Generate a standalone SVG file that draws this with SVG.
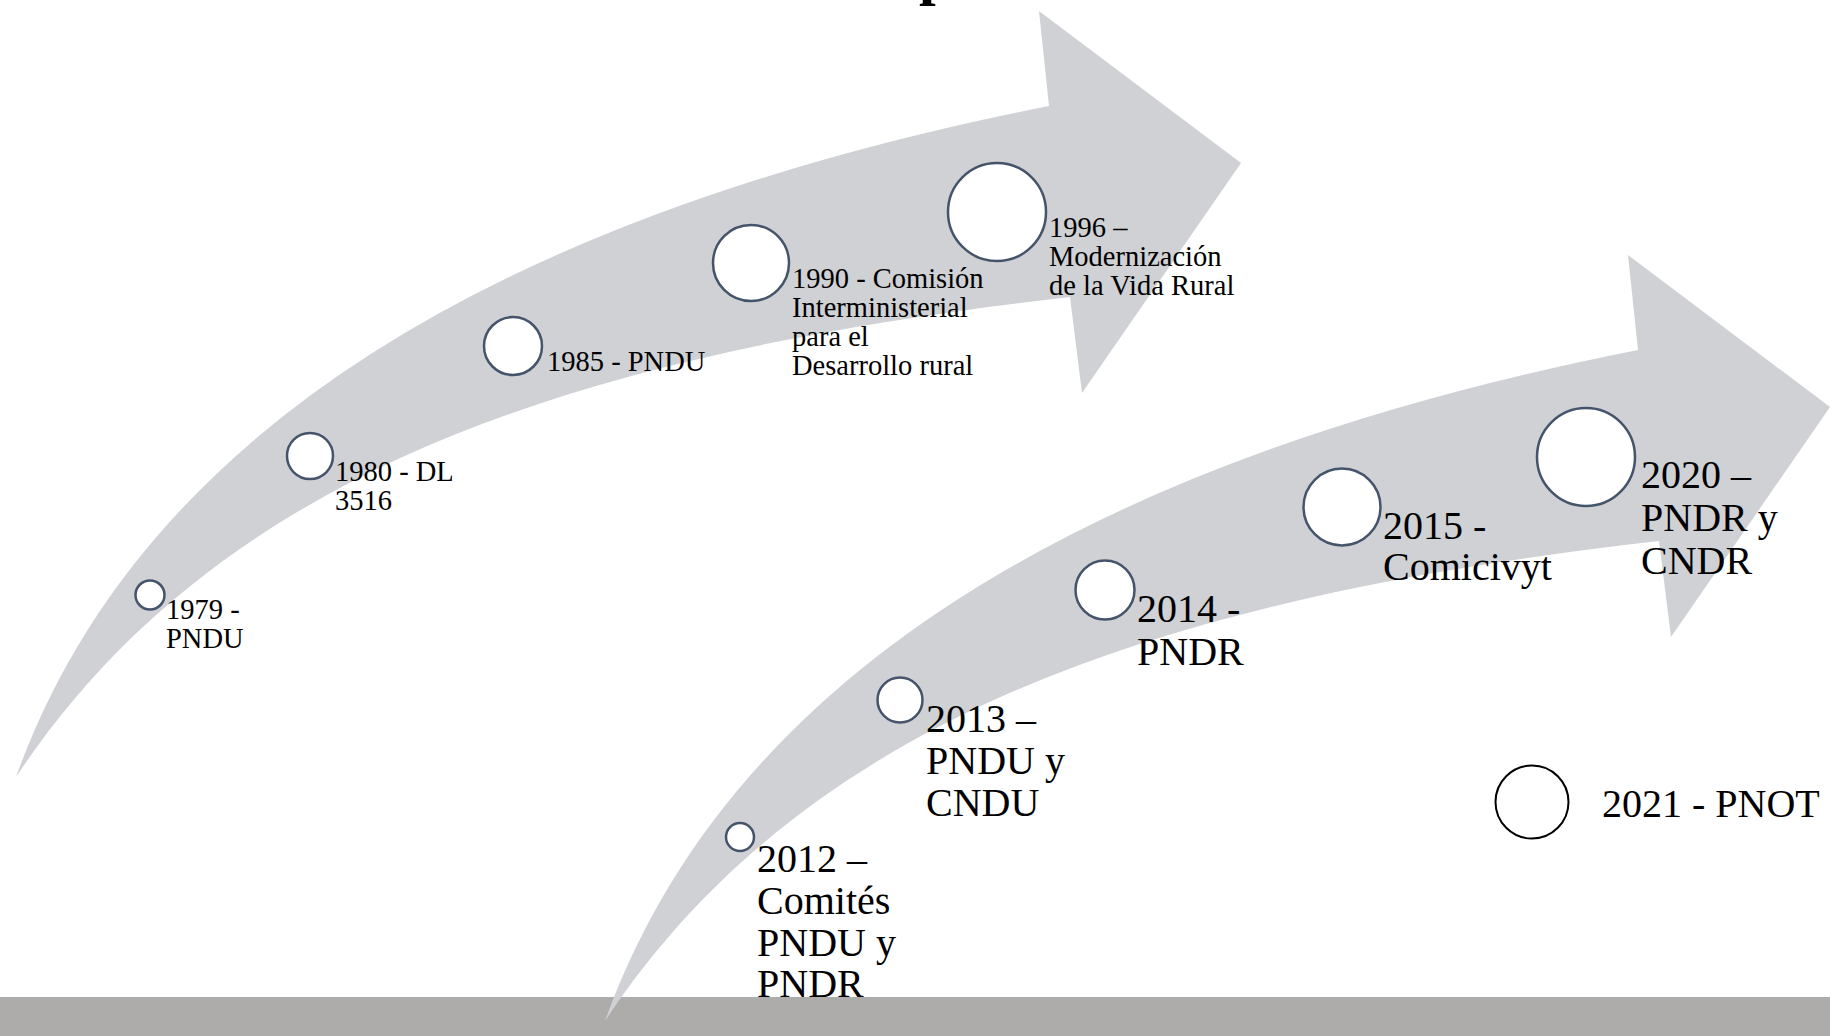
<svg xmlns="http://www.w3.org/2000/svg" xmlns:xlink="http://www.w3.org/1999/xlink" width="1830" height="1036" viewBox="0 0 1830 1036">
<style>
.arrow{fill:#CFD1D5;}
.dot{fill:#FFFFFF;stroke:#44546A;stroke-width:2.5;}
.dot2{fill:#FFFFFF;stroke:#000000;stroke-width:2;}
.s{font-family:"Liberation Serif","Times New Roman",serif;font-size:28.5px;fill:#000;}
.l{font-family:"Liberation Serif","Times New Roman",serif;font-size:40px;fill:#000;}
.t{font-family:"Liberation Serif","Times New Roman",serif;font-size:60px;font-weight:bold;fill:#000;}
</style>
<defs>
<path id="arrowShape" d="M 16 777 Q 196 275 1049 106 L 1039 11 L 1241 163 L 1082 393 L 1070 297 C 580 353 220 469 16 777 Z"/>
</defs>
<rect x="0" y="0" width="1830" height="1036" fill="#FFFFFF"/>
<text class="t" x="919" y="-7">p</text>
<rect id="bottom-bar" x="0" y="997" width="1830" height="39" fill="#AEABAB"/>
<g id="arrows">
<use xlink:href="#arrowShape" class="arrow"/>
<use xlink:href="#arrowShape" class="arrow" transform="translate(589,244)"/>
</g>
<g id="n1979"><circle class="dot" cx="150" cy="595" r="14.5"/><text class="s" x="166" y="619">1979 -<tspan x="166" y="648">PNDU</tspan></text></g>
<g id="n1980"><circle class="dot" cx="310" cy="456" r="23"/><text class="s" x="335" y="481">1980 - DL<tspan x="335" y="510">3516</tspan></text></g>
<g id="n1985"><circle class="dot" cx="513" cy="346" r="29"/><text class="s" x="547" y="371">1985 - PNDU</text></g>
<g id="n1990"><circle class="dot" cx="751" cy="263" r="38"/><text class="s" x="792" y="288">1990 - Comisión<tspan x="792" y="317">Interministerial</tspan><tspan x="792" y="346">para el</tspan><tspan x="792" y="375">Desarrollo rural</tspan></text></g>
<g id="n1996"><circle class="dot" cx="997" cy="212" r="49"/><text class="s" x="1049" y="237">1996 –<tspan x="1049" y="266">Modernización</tspan><tspan x="1049" y="295">de la Vida Rural</tspan></text></g>
<g id="n2012"><circle class="dot" cx="740" cy="837" r="14"/><text class="l" x="757" y="872">2012 –<tspan x="757" y="914">Comités</tspan><tspan x="757" y="956">PNDU y</tspan><tspan x="757" y="997">PNDR</tspan></text></g>
<g id="n2013"><circle class="dot" cx="900" cy="700" r="22.5"/><text class="l" x="926" y="732">2013 –<tspan x="926" y="774">PNDU y</tspan><tspan x="926" y="816">CNDU</tspan></text></g>
<g id="n2014"><circle class="dot" cx="1105" cy="590" r="29.5"/><text class="l" x="1137" y="622">2014 -<tspan x="1137" y="665">PNDR</tspan></text></g>
<g id="n2015"><circle class="dot" cx="1342" cy="507" r="38.5"/><text class="l" x="1383" y="539">2015 -<tspan x="1383" y="580">Comicivyt</tspan></text></g>
<g id="n2020"><circle class="dot" cx="1586" cy="457" r="49"/><text class="l" x="1641" y="488">2020 –<tspan x="1641" y="531">PNDR y</tspan><tspan x="1641" y="574">CNDR</tspan></text></g>
<g id="n2021"><circle class="dot2" cx="1532" cy="802" r="36.5"/><text class="l" x="1602" y="817">2021 - PNOT</text></g>
</svg>
